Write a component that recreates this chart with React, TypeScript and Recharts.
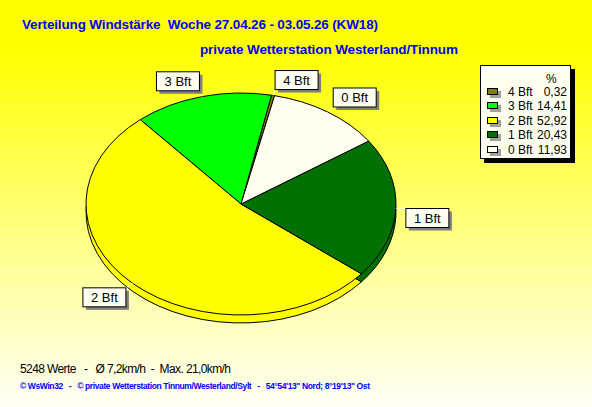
import React from "react";
import { PieChart, Pie, Cell, Legend } from "recharts";

// wind force shares for week 18 (legend order, which is also drawing order)
const categories = ["4 Bft", "3 Bft", "2 Bft", "1 Bft", "0 Bft"];
const shares = [0.32, 14.41, 52.92, 20.43, 11.93];
const shareLabels = ["0,32", "14,41", "52,92", "20,43", "11,93"];
const sliceColors = ["#808000", "#00ff00", "#ffff00", "#007000", "#fffff0"];

const title = "Verteilung Windstärke  Woche 27.04.26 - 03.05.26 (KW18)";
const subtitle = "private Wetterstation Westerland/Tinnum";
const summary = "5248 Werte   -   Ø 7,2km/h  -  Max. 21,0km/h";
const credits =
  "© WsWin32   -   © private Wetterstation Tinnum/Westerland/Sylt   -   54°54'13\" Nord; 8°19'13\" Ost";

const W = 592;
const H = 407;
const CX = 241;
const CY = 204;
const RX = 155;
const TILT = 0.716; // vertical squash of the pie -> ellipse
const DEPTH = 8;
const START = 77.5;
const FONT = '"Liberation Sans", Arial, sans-serif';

const data = categories.map((name, i) => ({ name, value: shares[i] }));

const tiltCss = `
.pie-top path.recharts-sector {
  transform-origin: ${CX}px ${CY}px;
  transform: scaleY(${TILT});
  vector-effect: non-scaling-stroke;
}
.pie-side path.recharts-sector {
  transform-origin: ${CX}px ${CY + DEPTH}px;
  transform: scaleY(${TILT});
  vector-effect: non-scaling-stroke;
}
`;

const BOX_W = 43;
const BOX_H = 19;

const renderLabel = (props: any) => {
  const { midAngle, index } = props;
  const cx = props.cx ?? CX;
  const cy = props.cy ?? CY;
  const r = props.outerRadius ?? RX;
  const rad = (midAngle * Math.PI) / 180;
  const c = Math.cos(rad);
  const s = Math.sin(rad);
  const px = cx + r * c;
  const py = cy - r * TILT * s;
  const ox = px + 10 * c;
  const oy = py - 6 * s;
  const bx = c >= 0 ? ox : ox - BOX_W;
  const by = s >= 0 ? oy - BOX_H : oy;
  return (
    <g key={`lbl-${index}`}>
      <line x1={px} y1={py} x2={ox} y2={oy} stroke="#ffffff" strokeWidth={1} />
      <rect x={bx + 3} y={by + 3} width={BOX_W} height={BOX_H} fill="#808080" />
      <rect x={bx} y={by} width={BOX_W} height={BOX_H} fill="#fffff0" stroke="#000" strokeWidth={1} />
      <text
        x={bx + BOX_W / 2}
        y={by + 14}
        textAnchor="middle"
        fontFamily={FONT}
        fontSize={13}
        fill="#000"
      >
        {categories[index]}
      </text>
    </g>
  );
};

const renderLegend = () => (
  <div
    style={{
      position: "relative",
      width: 89,
      height: 92,
      background: "#fffff0",
      border: "1px solid #000",
      boxShadow: "4px 4px 0 #000",
      fontFamily: FONT,
      fontSize: 12,
      color: "#000",
      lineHeight: "14px",
    }}
  >
    <div style={{ position: "absolute", left: 65, top: 6 }}>%</div>
    {categories.map((name, i) => (
      <div
        key={name}
        style={{ position: "absolute", left: 0, top: 19 + i * 14.4, width: "100%", height: 14 }}
      >
        <div
          style={{
            position: "absolute",
            left: 6,
            top: 3,
            width: 9,
            height: 5,
            background: sliceColors[i],
            border: "1px solid #000",
            boxShadow: "3px 3px 0 #a0a0a0",
          }}
        />
        <div style={{ position: "absolute", left: 27, top: 0 }}>{name}</div>
        <div style={{ position: "absolute", right: 3, top: 0 }}>{shareLabels[i]}</div>
      </div>
    ))}
  </div>
);

export default function App() {
  return (
    <div
      style={{
        position: "absolute",
        left: 0,
        top: 0,
        width: W,
        height: H,
        overflow: "hidden",
        background: "linear-gradient(180deg, #ffff00 0%, #ffff00 12%, #ffff90 62%, #fffff6 100%)",
      }}
    >
      <style>{tiltCss}</style>
      <svg
        width={W}
        height={H}
        style={{ position: "absolute", left: 0, top: 0 }}
        fontFamily={FONT}
      >
        <text x={22} y={29} fontSize={13.5} fontWeight="bold" fill="#0000ff" textLength={356} style={{ whiteSpace: "pre" }}>
          {title}
        </text>
        <text x={200} y={54} fontSize={13.5} fontWeight="bold" fill="#0000ff" textLength={258}>
          {subtitle}
        </text>
        <text x={20} y={373} fontSize={12} fill="#000" textLength={211} style={{ whiteSpace: "pre" }}>
          {summary}
        </text>
        <text x={20} y={389} fontSize={8.5} fontWeight="bold" fill="#0000ff" textLength={350} style={{ whiteSpace: "pre" }}>
          {credits}
        </text>
      </svg>
      <div style={{ position: "absolute", left: 0, top: 0 }}>
        <PieChart width={W} height={H} margin={{ top: 0, right: 0, bottom: 0, left: 0 }}>
          <Pie
            className="pie-side"
            data={data}
            dataKey="value"
            nameKey="name"
            cx={CX}
            cy={CY + DEPTH}
            outerRadius={RX}
            startAngle={START}
            endAngle={START + 360}
            stroke="#000"
            strokeWidth={1}
            label={false}
            labelLine={false}
            legendType="none"
            isAnimationActive={false}
          >
            {data.map((d, i) => (
              <Cell key={d.name} fill={sliceColors[i]} />
            ))}
          </Pie>
          <Pie
            className="pie-top"
            data={data}
            dataKey="value"
            nameKey="name"
            cx={CX}
            cy={CY}
            outerRadius={RX}
            startAngle={START}
            endAngle={START + 360}
            stroke="#000"
            strokeWidth={1}
            label={renderLabel}
            labelLine={false}
            isAnimationActive={false}
          >
            {data.map((d, i) => (
              <Cell key={d.name} fill={sliceColors[i]} />
            ))}
          </Pie>
          <Legend
            content={renderLegend}
            wrapperStyle={{ position: "absolute", left: 480, top: 65, width: "auto", height: "auto" }}
          />
        </PieChart>
      </div>
    </div>
  );
}
